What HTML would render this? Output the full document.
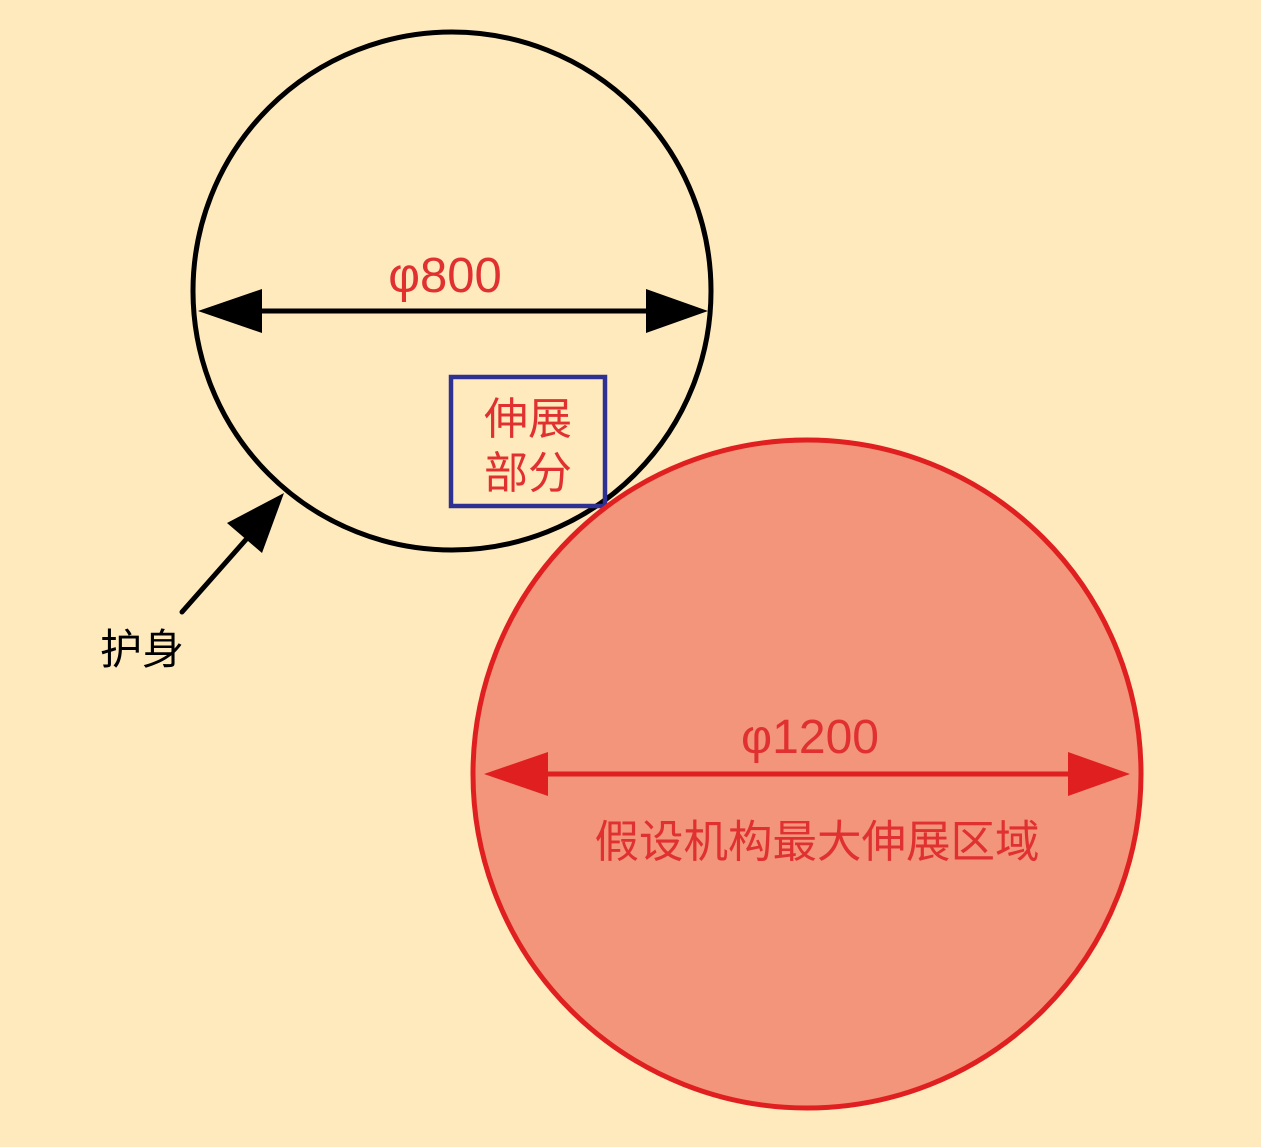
<!DOCTYPE html>
<html><head><meta charset="utf-8"><style>
html,body{margin:0;padding:0;background:#feeabd;}
svg{display:block}
text{font-family:"Liberation Sans","Noto Sans CJK SC",sans-serif;}
</style></head><body>
<svg width="1261" height="1147" viewBox="0 0 1261 1147">
<rect width="1261" height="1147" fill="#feeabd"/>
<circle cx="452" cy="291" r="259" fill="none" stroke="#000" stroke-width="5"/>
<line x1="250" y1="311" x2="660" y2="311" stroke="#000" stroke-width="5"/>
<polygon points="198,311 262,289 262,333" fill="#000"/>
<polygon points="708,311 646,289 646,333" fill="#000"/>
<text x="445" y="292" font-size="49" fill="#e03030" text-anchor="middle">φ800</text>
<rect x="451" y="377" width="154" height="129" fill="none" stroke="#2e3192" stroke-width="4.5"/>
<text x="528" y="434" font-size="44" fill="#e03030" text-anchor="middle">伸展</text>
<text x="528" y="488" font-size="44" fill="#e03030" text-anchor="middle">部分</text>
<circle cx="807" cy="774" r="334" fill="#f2957a" stroke="#e02020" stroke-width="5"/>
<line x1="540" y1="774" x2="1075" y2="774" stroke="#e02020" stroke-width="5"/>
<polygon points="484,774 548,752 548,796" fill="#e02020"/>
<polygon points="1130,774 1068,752 1068,796" fill="#e02020"/>
<text x="810" y="753" font-size="48" fill="#e03030" text-anchor="middle">φ1200</text>
<text x="817" y="857" font-size="44.5" fill="#e03030" text-anchor="middle">假设机构最大伸展区域</text>
<line x1="182" y1="612" x2="250" y2="535" stroke="#000" stroke-width="5" stroke-linecap="round"/>
<polygon points="284,493 227,523 262,553" fill="#000"/>
<text x="142" y="664" font-size="42" fill="#000" text-anchor="middle">护身</text>
</svg>
</body></html>
